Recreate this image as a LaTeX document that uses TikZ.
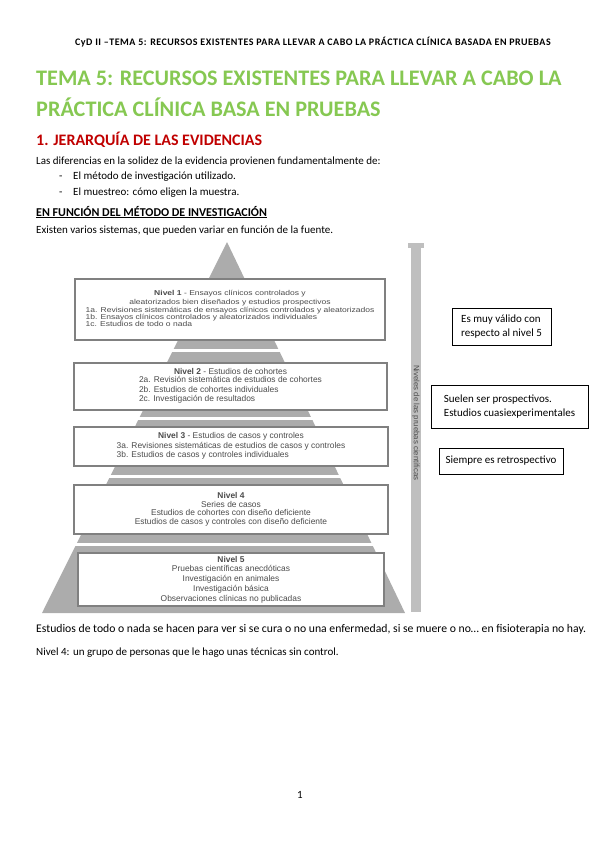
\documentclass[tikz,border=0pt]{standalone}
\usepackage{fontspec}
\setmainfont{Carlito}
\newfontfamily\scanfont{Liberation Sans}
\newfontfamily\scanwide[FakeStretch=1.2]{Liberation Sans}
\newfontfamily\hdrfont[LetterSpace=5]{Carlito}
\usetikzlibrary{positioning}
\definecolor{titlegreen}{RGB}{134,200,82}
\definecolor{headred}{RGB}{192,0,0}
\definecolor{pyrgray}{RGB}{172,172,172}
\definecolor{scanink}{RGB}{75,75,75}

\begin{document}
\begin{tikzpicture}[x=1pt,y=-1pt,
 line/.style={anchor=base west,inner sep=0,font=\fontsize{11}{13}\selectfont},
 level/.style={draw=gray,line width=1.3pt,fill=white,inner sep=0,align=center,text=scanink,font=\scanfont\fontsize{8.4}{9.6}\selectfont},
 note/.style={draw,line width=.6pt,align=left,inner xsep=6pt,font=\fontsize{11}{13.4}\selectfont}]
\useasboundingbox (0,0) rectangle (599,848);
% cabecera y texto
\node[line,font=\hdrfont\bfseries\fontsize{10}{12}\selectfont] (hdr) at (75,46) {CyD II –TEMA 5: RECURSOS EXISTENTES PARA LLEVAR A CABO LA PRÁCTICA CLÍNICA BASADA EN PRUEBAS};
\node[line,text=titlegreen,font=\bfseries\fontsize{22.2}{26}\selectfont] (tit1) at (36,86) {TEMA 5: RECURSOS EXISTENTES PARA LLEVAR A CABO LA};
\node[line,text=titlegreen,font=\bfseries\fontsize{22.2}{26}\selectfont] (tit2) at (36,117) {PRÁCTICA CLÍNICA BASA EN PRUEBAS};
\node[line,text=headred,font=\bfseries\fontsize{16}{19}\selectfont] (sec) at (36,146) {1. JERARQUÍA DE LAS EVIDENCIAS};
\node[line] (p1) at (36,164) {Las diferencias en la solidez de la evidencia provienen fundamentalmente de:};
\node[line] (d1) at (59,179) {-};
\node[line] (b1) at (73,179) {El método de investigación utilizado.};
\node[line] (d2) at (59,195) {-};
\node[line] (b2) at (73,195) {El muestreo: cómo eligen la muestra.};
\node[line,font=\bfseries\fontsize{12}{14}\selectfont] (sub) at (36,216) {\underline{EN FUNCIÓN DEL MÉTODO DE INVESTIGACIÓN}};
\node[line] (p2) at (36,233) {Existen varios sistemas, que pueden variar en función de la fuente.};
% piramide
\fill[pyrgray] (227,242) -- (405,613) -- (42,613) -- cycle;
\foreach \y in {350,418,476,544} \draw[white,line width=3pt] (40,\y) -- (415,\y);
\node[level,minimum width=310pt,minimum height=61pt,font=\scanwide\fontsize{7.1}{9}\selectfont] (lv1) at (230,309.5) {\textbf{Nivel 1} - Ensayos clínicos controlados y\\aleatorizados bien diseñados y estudios prospectivos\\{\fontsize{7.1}{7.2}\selectfont\begin{tabular}{@{}l@{}}1a. Revisiones sistemáticas de ensayos clínicos controlados y aleatorizados\\1b. Ensayos clínicos controlados y aleatorizados individuales\\1c. Estudios de todo o nada\end{tabular}}};
\node[level,minimum width=313pt,minimum height=47pt] (lv2) at (230.5,386.5) {\textbf{Nivel 2} - Estudios de cohortes\\\begin{tabular}{@{}l@{}}2a. Revisión sistemática de estudios de cohortes\\2b. Estudios de cohortes individuales\\2c. Investigación de resultados\end{tabular}};
\node[level,minimum width=314pt,minimum height=39pt] (lv3) at (231,446.5) {\textbf{Nivel 3} - Estudios de casos y controles\\\begin{tabular}{@{}l@{}}3a. Revisiones sistemáticas de estudios de casos y controles\\3b. Estudios de casos y controles individuales\end{tabular}};
\node[level,minimum width=314pt,minimum height=49pt,font=\scanfont\fontsize{8.4}{8.6}\selectfont] (lv4) at (231,509.5) {\textbf{Nivel 4}\\Series de casos\\Estudios de cohortes con diseño deficiente\\Estudios de casos y controles con diseño deficiente};
\node[level,minimum width=306pt,minimum height=53pt,font=\scanfont\fontsize{8.4}{9.8}\selectfont] (lv5) at (231,579.5) {\textbf{Nivel 5}\\Pruebas científicas anecdóticas\\Investigación en animales\\Investigación básica\\Observaciones clínicas no publicadas};
% barra lateral
\fill[gray!50] (411,248) rectangle (421,612);
\fill[gray!50] (408,243) rectangle (424,248);
\node[rotate=-90,inner sep=0,text=scanink,font=\scanfont\fontsize{7.8}{8}\selectfont] (axis) at (416,423) {Niveles de las pruebas científicas};
% notas
\node[note,minimum width=99pt,minimum height=37pt] (n1) at (501.5,326.5) {Es muy válido con\\respecto al nivel 5};
\node[note,minimum width=157pt,minimum height=43pt] (n2) at (509.5,406.5) {Suelen ser prospectivos.\\Estudios cuasiexperimentales};
\node[note,minimum width=124pt,minimum height=26pt] (n3) at (501,461) {Siempre es retrospectivo};
% texto final
\node[line,font=\fontsize{11.7}{14}\selectfont] (p3) at (36,632) {Estudios de todo o nada se hacen para ver si se cura o no una enfermedad, si se muere o no… en fisioterapia no hay.};
\node[line] (p4) at (36,655) {Nivel 4: un grupo de personas que le hago unas técnicas sin control.};
\node[inner sep=0,font=\fontsize{11}{13}\selectfont] (pg) at (300,795) {1};
\end{tikzpicture}
\end{document}
